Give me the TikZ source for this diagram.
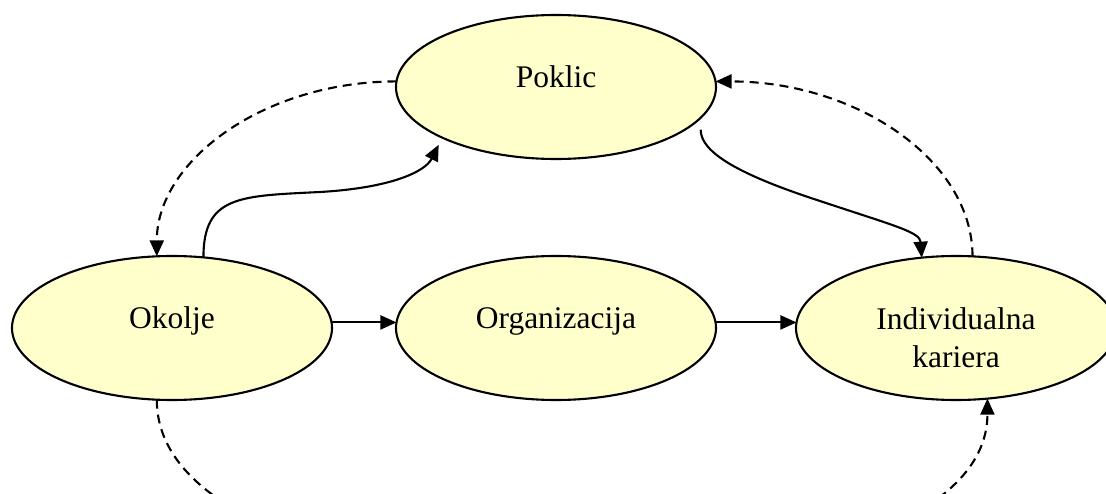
\documentclass[tikz,border=0pt]{standalone}
\usepackage{fontspec}
\setmainfont{Liberation Serif}
\usetikzlibrary{shapes.geometric,arrows.meta}
\definecolor{paleyellow}{HTML}{FFFFCC}

\begin{document}
\begin{tikzpicture}[
    x=1pt, y=-1pt,
    line width=2.1pt,
    every node/.append style={font=\fontsize{31.5}{38}\selectfont},
    field/.style={ellipse, draw, fill=paleyellow, minimum width=320pt,
        minimum height=144pt, inner sep=0pt, outer sep=0pt},
    caption/.style={anchor=base, align=center, inner sep=0pt},
    flow/.style={-{Triangle[length=16pt,width=14pt]}},
    feedback/.style={flow, dash pattern=on 9pt off 6pt}
]
    \useasboundingbox (0,0) rectangle (1106,494);
    \clip (0,0) rectangle (1106,494);
    % the four fields
    \node[field] (poklic)       at (556,87)  {};
    \node[field] (okolje)       at (172,328) {};
    \node[field] (organizacija) at (556,328) {};
    \node[field] (kariera)      at (956,328) {};
    \node[caption] (poklic-txt)       at ([yshift=-1pt]poklic.center)       {Poklic};
    \node[caption] (okolje-txt)       at ([yshift=-1pt]okolje.center)       {Okolje};
    \node[caption] (organizacija-txt) at ([yshift=-1pt]organizacija.center) {Organizacija};
    \node[caption] (kariera-txt)      at ([yshift=-39pt]kariera.center)     {Individualna\\kariera};
    % main flow
    \draw[flow] (okolje.2) -- (organizacija.178);
    \draw[flow] (organizacija.2) -- (kariera.178);
    \draw[flow, shorten >=8pt] (okolje.66) .. controls +(0,-62) and (240,196) .. (320,192)
        .. controls (390,188) and (425,172) .. (poklic.204);
    \draw[flow, shorten <=12pt] (poklic.348) .. controls +(0,35) and (740,175) .. (820,201)
        .. controls (895,226) and (920,232) .. (kariera.116);
    % feedback
    \draw[feedback] (poklic.178) .. controls +(-132,0) and +(0,-96) .. (okolje.102);
    \draw[feedback] (kariera.77) .. controls +(0,-96) and +(141,0) .. (poklic.2);
    \draw[feedback] (okolje.258) .. controls +(0,238) and +(0,238) .. (kariera.294);
\end{tikzpicture}
\end{document}
